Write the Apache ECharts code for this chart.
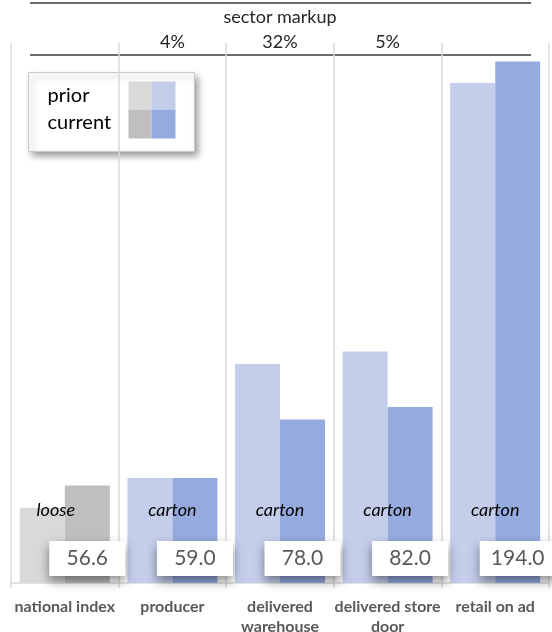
<!DOCTYPE html>
<html>
<head>
<meta charset="utf-8">
<script src="https://cdn.jsdelivr.net/npm/echarts@6/dist/echarts.min.js"></script>
<style>
  html, body { margin: 0; padding: 0; background: #fff; }
  #chart { width: 552px; height: 632px; }
</style>
</head>
<body>
<div id="chart"></div>
<script>
const categories = ['national index', 'producer', 'delivered\nwarehouse', 'delivered store\ndoor', 'retail on ad'];
const priorValues = [49.4, 59.0, 96.0, 100.0, 187.0];
const currentValues = [56.6, 59.0, 78.0, 82.0, 194.0];
const packaging = ['loose', 'carton', 'carton', 'carton', 'carton'];
const markup = ['', '4%', '32%', '5%', ''];

const FONT = 'Lato, "Open Sans", sans-serif';
const greyPrior = '#d9d9d9';
const greyCurrent = '#bfbfbf';
const bluePrior = '#c4ceeb';
const blueCurrent = '#95aade';

const chart = echarts.init(document.getElementById('chart'), null, { renderer: 'canvas' });

const priorData = priorValues.map((v, i) => ({
  value: v,
  itemStyle: { color: i === 0 ? greyPrior : bluePrior },
  label: { offset: [i === 0 ? -9 : 0, -73] },
}));
const currentData = currentValues.map((v, i) => ({
  value: v,
  itemStyle: { color: i === 0 ? greyCurrent : blueCurrent },
}));

chart.setOption({
  animation: false,
  textStyle: { fontFamily: FONT },
  grid: { left: 11, right: 3, top: 43, bottom: 49, containLabel: false, outerBoundsMode: 'none' },
  xAxis: [
    {
      type: 'category',
      data: categories,
      axisLine: { lineStyle: { color: '#d9d9d9', width: 1.5 } },
      axisTick: { show: true, length: 5, lineStyle: { color: '#d9d9d9', width: 1.5 } },
      splitLine: { show: true, lineStyle: { color: '#d9d9d9', width: 1.5 } },
      axisLabel: {
        color: '#595959',
        fontWeight: 'bold',
        fontSize: 16,
        fontFamily: FONT,
        margin: 14,
        lineHeight: 20,
        interval: 0,
      },
    },
    {
      type: 'category',
      position: 'top',
      data: markup,
      axisLine: { show: false },
      axisTick: { show: false },
      splitLine: { show: false },
      axisLabel: { color: '#262626', fontSize: 18, fontFamily: FONT, margin: -8, interval: 0 },
      name: 'sector markup',
      nameLocation: 'middle',
      nameGap: 17,
      nameTextStyle: { color: '#262626', fontSize: 18, fontFamily: FONT },
    },
  ],
  yAxis: { type: 'value', min: 25, max: 200, show: false, splitLine: { show: false } },
  series: [
    {
      name: 'prior',
      type: 'bar',
      barWidth: 45,
      barGap: '0%',
      data: priorData,
      label: {
        show: true,
        position: ['100%', '100%'],
        align: 'center',
        verticalAlign: 'middle',
        formatter: p => packaging[p.dataIndex],
        color: '#000',
        fontStyle: 'italic',
        fontSize: 18,
        fontFamily: FONT,
      },
    },
    {
      name: 'current',
      type: 'bar',
      barWidth: 45,
      barGap: '0%',
      data: currentData,
      label: {
        show: true,
        position: 'insideBottom',
        distance: 7,
        formatter: p => p.value.toFixed(1),
        width: 76,
        height: 35,
        lineHeight: 35,
        align: 'center',
        padding: 0,
        backgroundColor: '#fff',
        shadowBlur: 10,
        shadowColor: 'rgba(0,0,0,0.45)',
        shadowOffsetY: 5,
        color: '#595959',
        fontSize: 21,
        fontFamily: FONT,
      },
    },
  ],
  graphic: [
    { type: 'line', shape: { x1: 30, y1: 3, x2: 531, y2: 3 }, style: { stroke: '#3a3a3a', lineWidth: 1.5 } },
    { type: 'line', shape: { x1: 30, y1: 55, x2: 531, y2: 55 }, style: { stroke: '#3a3a3a', lineWidth: 1.5 } },
    {
      type: 'group',
      left: 28,
      top: 72,
      children: [
        {
          type: 'rect',
          shape: { x: 0, y: 0, width: 166, height: 79 },
          style: {
            fill: '#fff',
            stroke: '#c8c8c8',
            lineWidth: 1,
            shadowBlur: 7,
            shadowOffsetX: 3,
            shadowOffsetY: 4,
            shadowColor: 'rgba(0,0,0,0.4)',
          },
        },
        { type: 'text', x: 19, y: 23, style: { text: 'prior', fontSize: 20, fontFamily: FONT, fill: '#000', verticalAlign: 'middle' } },
        { type: 'text', x: 19, y: 50, style: { text: 'current', fontSize: 20, fontFamily: FONT, fill: '#000', verticalAlign: 'middle' } },
        { type: 'rect', shape: { x: 100, y: 9, width: 23, height: 28 }, style: { fill: greyPrior } },
        { type: 'rect', shape: { x: 123, y: 9, width: 24, height: 28 }, style: { fill: bluePrior } },
        { type: 'rect', shape: { x: 100, y: 37, width: 23, height: 29 }, style: { fill: greyCurrent } },
        { type: 'rect', shape: { x: 123, y: 37, width: 24, height: 29 }, style: { fill: blueCurrent } },
      ],
    },
  ],
});
</script>
</body>
</html>
